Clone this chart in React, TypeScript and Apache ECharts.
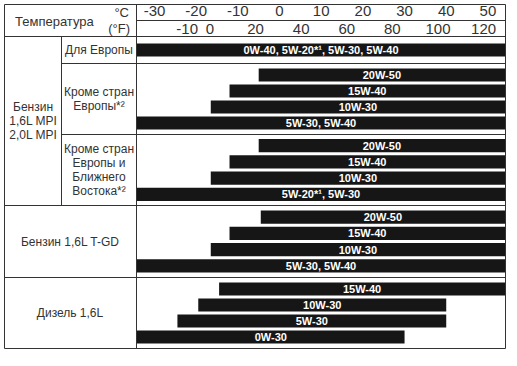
import React, { useEffect, useRef } from "react";
import * as echarts from "echarts";

// ---- data ----
const celsiusTicks = [-30, -20, -10, 0, 10, 20, 30, 40, 50];
const fahrenheitTicks = [-10, 0, 20, 40, 60, 80, 100, 120];

// null = open-ended (range continues beyond the chart edge)
const europeGrades = ["0W-40, 5W-20*¹, 5W-30, 5W-40"];
const europeFrom: (number | null)[] = [null];
const europeTo: (number | null)[] = [null];

const otherGrades = ["20W-50", "15W-40", "10W-30", "5W-30, 5W-40"];
const otherFrom: (number | null)[] = [-5, -12, -16.5, null];
const otherTo: (number | null)[] = [null, null, null, null];

const otherMEGrades = ["20W-50", "15W-40", "10W-30", "5W-20*¹, 5W-30"];
const otherMEFrom: (number | null)[] = [-5, -12, -16.5, null];
const otherMETo: (number | null)[] = [null, null, null, null];

const tgdGrades = ["20W-50", "15W-40", "10W-30", "5W-30, 5W-40"];
const tgdFrom: (number | null)[] = [-4.5, -12, -16.5, null];
const tgdTo: (number | null)[] = [null, null, null, null];

const dieselGrades = ["15W-40", "10W-30", "5W-30", "0W-30"];
const dieselFrom: (number | null)[] = [-14.5, -19.5, -24.5, null];
const dieselTo: (number | null)[] = [null, 40, 40, 30];

// ---- layout ----
const FONT = '"Liberation Sans", Arial, sans-serif';
const INK = "#333";
const PLOT_LEFT = 137;
const PLOT_W = 368;
const C_MIN = -34.2;
const C_MAX = 54.1;
const F_MIN = -32;
const F_MAX = 129.4;

const sections = [
  { grades: europeGrades, from: europeFrom, to: europeTo, top: 42, height: 16 },
  { grades: otherGrades, from: otherFrom, to: otherTo, top: 67, height: 64 },
  { grades: otherMEGrades, from: otherMEFrom, to: otherMETo, top: 137.5, height: 65 },
  { grades: tgdGrades, from: tgdFrom, to: tgdTo, top: 209, height: 65 },
  { grades: dieselGrades, from: dieselFrom, to: dieselTo, top: 281, height: 64 },
];

function line(x1: number, y1: number, x2: number, y2: number) {
  return {
    type: "line",
    shape: { x1, y1, x2, y2 },
    style: { stroke: INK, lineWidth: 1 },
    silent: true,
  };
}

function label(text: string, x: number, y: number, opts: any = {}) {
  return {
    type: "text",
    x,
    y,
    style: {
      text,
      fill: INK,
      font: `${opts.size || 12}px ${FONT}`,
      align: opts.align || "center",
      verticalAlign: "middle",
      lineHeight: 14,
    },
    silent: true,
  };
}

export default function App() {
  const ref = useRef<HTMLDivElement>(null);

  useEffect(() => {
    if (!ref.current) return;
    const chart = echarts.init(ref.current, undefined, { renderer: "svg" });

    const grids: any[] = [{ left: PLOT_LEFT, width: PLOT_W, top: 20, height: 17 }];
    const xAxes: any[] = [
      {
        gridIndex: 0,
        type: "value",
        min: C_MIN,
        max: C_MAX,
        position: "top",
        axisLine: { show: false },
        axisTick: { show: false },
        splitLine: { show: false },
        axisLabel: {
          customValues: celsiusTicks,
          margin: 2,
          fontSize: 15,
          color: INK,
          fontFamily: FONT,
        },
      },
      {
        gridIndex: 0,
        type: "value",
        min: F_MIN,
        max: F_MAX,
        position: "bottom",
        axisLine: { show: false },
        axisTick: { show: false },
        splitLine: { show: false },
        axisLabel: {
          inside: true,
          customValues: fahrenheitTicks,
          margin: 1,
          fontSize: 15,
          color: INK,
          fontFamily: FONT,
        },
      },
    ];
    const yAxes: any[] = [{ gridIndex: 0, type: "value", show: false }];
    const series: any[] = [];

    sections.forEach((s, i) => {
      grids.push({ left: PLOT_LEFT, width: PLOT_W, top: s.top, height: s.height });
      xAxes.push({ gridIndex: i + 1, type: "value", min: C_MIN, max: C_MAX, show: false });
      yAxes.push({ gridIndex: i + 1, type: "category", data: s.grades, inverse: true, show: false });
      series.push({
        type: "custom",
        xAxisIndex: i + 2,
        yAxisIndex: i + 1,
        encode: { x: [0, 1], y: 2 },
        data: s.grades.map((_, k) => [
          s.from[k] == null ? "-" : s.from[k],
          s.to[k] == null ? "-" : s.to[k],
          k,
        ]),
        renderItem: (params: any, api: any) => {
          const cs = params.coordSys;
          const f = api.value(0);
          const t = api.value(1);
          const row = api.value(2);
          const y = api.coord([0, row])[1];
          const h = api.size([0, 1])[1] * 0.82;
          const x0 = Number.isFinite(f) ? api.coord([f, row])[0] : cs.x;
          const x1 = Number.isFinite(t) ? api.coord([t, row])[0] : cs.x + cs.width;
          return {
            type: "group",
            children: [
              {
                type: "rect",
                shape: { x: x0, y: y - h / 2, width: x1 - x0, height: h },
                style: { fill: "#161616" },
              },
              {
                type: "text",
                x: (x0 + x1) / 2,
                y: y,
                style: {
                  text: s.grades[params.dataIndex],
                  fill: "#ffffff",
                  font: `bold 11px ${FONT}`,
                  align: "center",
                  verticalAlign: "middle",
                },
              },
            ],
          };
        },
      });
    });

    const L = 4.5;
    const R = 505.5;
    const graphic: any[] = [
      // outer frame
      line(L, 4.5, R, 4.5),
      line(L, 348.5, R, 348.5),
      line(L, 4.5, L, 348.5),
      line(R, 4.5, R, 348.5),
      // header
      line(136.5, 20.5, R, 20.5),
      line(L, 36.5, R, 36.5),
      line(136.5, 4.5, 136.5, 348.5),
      // groups
      line(61.5, 36.5, 61.5, 205.5),
      line(61.5, 63.5, R, 63.5),
      line(61.5, 134.5, R, 134.5),
      line(L, 205.5, R, 205.5),
      line(L, 277.5, R, 277.5),
      // header texts
      label("Температура", 15, 21, { size: 13, align: "left" }),
      label("°C", 129, 12, { size: 13, align: "right" }),
      label("(°F)", 130, 28, { size: 13, align: "right" }),
      // row labels
      label("Бензин\n1,6L MPI\n2,0L MPI", 33, 121),
      label("Для Европы", 99, 50),
      label("Кроме стран\nЕвропы*²", 99, 99),
      label("Кроме стран\nЕвропы и\nБлижнего\nВостока*²", 99, 169.5),
      label("Бензин 1,6L T-GD", 70, 242),
      label("Дизель 1,6L", 70, 313),
    ];

    chart.setOption({
      animation: false,
      backgroundColor: "#ffffff",
      grid: grids,
      xAxis: xAxes,
      yAxis: yAxes,
      series,
      graphic,
    });

    return () => chart.dispose();
  }, []);

  return (
    <div
      ref={ref}
      style={{ position: "fixed", left: 0, top: 0, width: 517, height: 366 }}
    />
  );
}
